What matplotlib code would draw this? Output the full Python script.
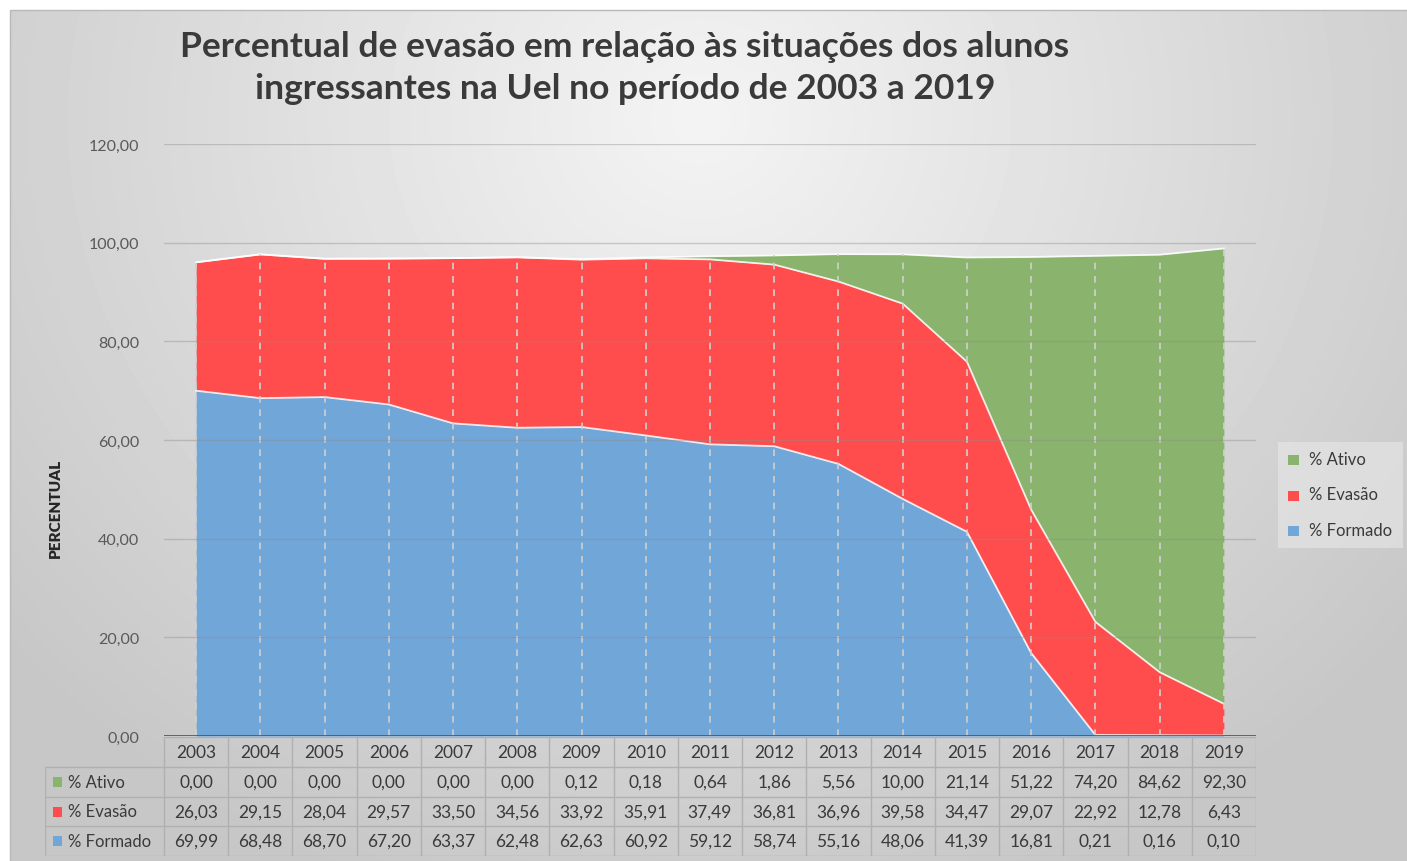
import numpy as np
import matplotlib
matplotlib.use("Agg")
import matplotlib.pyplot as plt
from matplotlib.patches import Rectangle

plt.rcParams['font.family'] = ['Lato', 'DejaVu Sans']

# data
anos = ['2003', '2004', '2005', '2006', '2007', '2008', '2009', '2010', '2011',
        '2012', '2013', '2014', '2015', '2016', '2017', '2018', '2019']
ativo = [0.00, 0.00, 0.00, 0.00, 0.00, 0.00, 0.12, 0.18, 0.64,
         1.86, 5.56, 10.00, 21.14, 51.22, 74.20, 84.62, 92.30]
evasao = [26.03, 29.15, 28.04, 29.57, 33.50, 34.56, 33.92, 35.91, 37.49,
          36.81, 36.96, 39.58, 34.47, 29.07, 22.92, 12.78, 6.43]
formado = [69.99, 68.48, 68.70, 67.20, 63.37, 62.48, 62.63, 60.92, 59.12,
           58.74, 55.16, 48.06, 41.39, 16.81, 0.21, 0.16, 0.10]
series_names = ['% Ativo', '% Evasão', '% Formado']

c_ativo = '#8ab46e'
c_evasao = '#ff4d4d'
c_formado = '#70a6d8'
txt = '#3a3a3a'

W, H = 1407, 862
fig = plt.figure(figsize=(W / 100, H / 100), dpi=100)

# background with soft radial gradient
bg = fig.add_axes([0, 0, 1, 1], zorder=-5)
bg.set_xlim(0, W)
bg.set_ylim(H, 0)
bg.axis('off')
yy, xx = np.mgrid[11:H, 10:W]
dist = np.sqrt((xx - 700.0) ** 2 + ((yy - 120.0) * 1.1) ** 2)
val = 0.955 - 0.175 * np.clip(dist / 900.0, 0, 1)
bg.imshow(val, cmap='gray', vmin=0, vmax=1, extent=(10, W, H, 11),
          aspect='auto', interpolation='bilinear')
bg.plot([10, 10, W], [H, 11, 11], color='#b8b8b8', lw=1)

# legend drawn by hand
bg.add_patch(Rectangle((1278, 443), 125, 106, facecolor='#e8e8e8', alpha=0.6,
                       edgecolor='none'))
for i, (nm, col) in enumerate(zip(series_names, [c_ativo, c_evasao, c_formado])):
    yc = 460 + i * 35.5
    bg.add_patch(Rectangle((1288, yc - 4), 11, 10, facecolor=col, edgecolor='none'))
    bg.text(1309, yc, nm, fontsize=12, color=txt, va='center', ha='left')

# main area chart
left, right = 164 / W, 1256 / W
bot, top = 1 - 737 / H, 1 - 145 / H
ax = fig.add_axes([left, bot, right - left, top - bot])
ax.patch.set_alpha(0)
x = np.arange(len(anos))
f = np.array(formado)
e = np.array(evasao)
a = np.array(ativo)
ax.fill_between(x, 0, f, color=c_formado, lw=0, zorder=2)
ax.fill_between(x, f, f + e, color=c_evasao, lw=0, zorder=2)
ax.fill_between(x, f + e, f + e + a, color=c_ativo, lw=0, zorder=2)
ax.plot(x, f, color='white', lw=1.3, alpha=0.85, zorder=3)
ax.plot(x, f + e, color='white', lw=1.3, alpha=0.85, zorder=3)
ax.plot(x, f + e + a, color='white', lw=1.3, alpha=0.85, zorder=3)
ax.vlines(x, 0, f + e + a, colors='#d0d0d0', linestyles=(0, (4, 4)), lw=1.2,
          zorder=4)
ax.set_xlim(-0.5, len(anos) - 0.5)
ax.set_ylim(0, 120)
yt = np.arange(0, 121, 20)
for v in yt[1:]:
    ax.axhline(v, color='#8c8c8c', lw=1, alpha=0.4, zorder=5)
ax.axhline(0, color='#595959', lw=2, zorder=6)
ax.set_yticks(yt)
ax.set_yticklabels([f'{v:.2f}'.replace('.', ',') for v in yt], fontsize=11.5,
                   color='#595959')
ax.tick_params(axis='y', length=0, pad=18)
ax.set_xticks([])
for s in ax.spines.values():
    s.set_visible(False)

fig.text(55 / W, 1 - 508 / H, 'PERCENTUAL', rotation=90, fontsize=11,
         fontweight='heavy', color='#262626', ha='center', va='center')

fig.text(625 / W, 1 - 68 / H,
         'Percentual de evasão em relação às situações dos alunos\n'
         'ingressantes na Uel no período de 2003 a 2019',
         fontsize=25.5, fontweight='bold', color=txt, ha='center', va='center',
         multialignment='center', linespacing=1.38)

# data table below the axis
tleft, tright = 45 / W, 1256 / W
tbot, ttop = 1 - 857 / H, 1 - 738 / H
tab = fig.add_axes([tleft, tbot, tright - tleft, ttop - tbot])
tab.patch.set_alpha(0)
unit = (1256 - 164) / len(anos)
x0 = -0.5 - (164 - 45) / unit
tab.set_xlim(x0, len(anos) - 0.5)
tab.set_ylim(0, 4)
tab.axis('off')
lc = '#b0b0b0'
tab.hlines(4, -0.5, len(anos) - 0.5, color=lc, lw=1)
tab.hlines([0, 1, 2, 3], x0, len(anos) - 0.5, color=lc, lw=1)
tab.vlines(np.arange(len(anos) + 1) - 0.5, 0, 4, color=lc, lw=1)
tab.vlines(x0, 0, 3, color=lc, lw=1)
fs = 12.5
for i, yr in enumerate(anos):
    tab.text(i, 3.5, yr, ha='center', va='center', fontsize=fs, color=txt)
rows = [ativo, evasao, formado]
cols = [c_ativo, c_evasao, c_formado]
for r, (vals, nm, col) in enumerate(zip(rows, series_names, cols)):
    yc = 2.5 - r
    tab.add_patch(Rectangle((x0 + 0.12, yc - 0.18), 0.15, 0.34, facecolor=col,
                            edgecolor='none'))
    tab.text(x0 + 0.36, yc, nm, ha='left', va='center', fontsize=fs - 0.5,
             color=txt)
    for i, v in enumerate(vals):
        tab.text(i, yc, f'{v:.2f}'.replace('.', ','), ha='center', va='center',
                 fontsize=fs, color=txt)

fig.savefig('out.png', dpi=100)
